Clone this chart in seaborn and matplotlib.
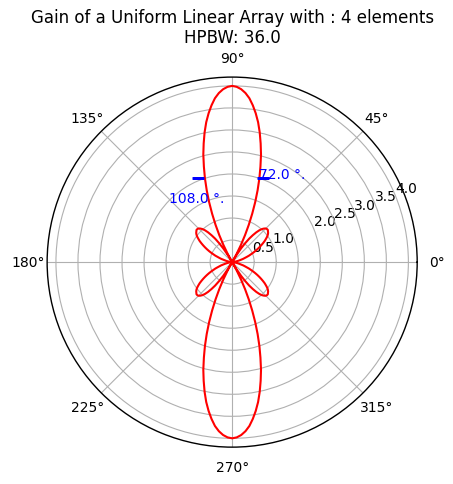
import numpy as np
import pandas as pd
import matplotlib
matplotlib.use("Agg")
import matplotlib.pyplot as plt
import matplotlib.transforms as mtransforms
import seaborn as sns

# ---- data ----
# gain of the first quadrant (0..90 deg, 1.5 deg step); the pattern is symmetric
quad_angles_deg = [0, 1.5, 3, 4.5, 6, 7.5, 9, 10.5, 12, 13.5, 15, 16.5, 18, 19.5,
                   21, 22.5, 24, 25.5, 27, 28.5, 30, 31.5, 33, 34.5, 36, 37.5, 39,
                   40.5, 42, 43.5, 45, 46.5, 48, 49.5, 51, 52.5, 54, 55.5, 57, 58.5,
                   60, 61.5, 63, 64.5, 66, 67.5, 69, 70.5, 72, 73.5, 75, 76.5, 78,
                   79.5, 81, 82.5, 84, 85.5, 87, 88.5, 90]
quad_gain = [0.00, 0.00, 0.01, 0.02, 0.03, 0.05, 0.08, 0.11, 0.14, 0.17, 0.21,
             0.26, 0.30, 0.35, 0.41, 0.46, 0.52, 0.58, 0.64, 0.70, 0.76, 0.82,
             0.88, 0.93, 0.98, 1.02, 1.05, 1.07, 1.09, 1.09, 1.08, 1.05, 1.01,
             0.95, 0.87, 0.77, 0.66, 0.52, 0.37, 0.19, 0.00, 0.21, 0.44, 0.68,
             0.93, 1.19, 1.46, 1.73, 2.00, 2.26, 2.53, 2.77, 3.01, 3.23, 3.42,
             3.59, 3.74, 3.85, 3.93, 3.98, 4.00]
hp_angles_deg = [72.0, 108.0]
hp_gain = [2.0, 2.0]
hp_labels = ["72.0 °.", "108.0 °."]
r_ticks = [0.5, 1.0, 1.5, 2.0, 2.5, 3.0, 3.5, 4.0]
r_tick_labels = ["0.5", "1.0", "", "2.0", "2.5", "3.0", "3.5", "4.0"]
n_elements = 4
hpbw = 36.0

sns.set_style("white")
plt.rcParams['font.family'] = ['DejaVu Sans']
plt.rcParams['text.color'] = 'black'
plt.rcParams['axes.labelcolor'] = 'black'

fig = plt.figure(figsize=(4.53, 4.85), dpi=100)
ax = fig.add_axes([0.104, 0.076, 0.817, 0.763], projection='polar')

qa = np.array(quad_angles_deg, dtype=float)
qg = np.array(quad_gain, dtype=float)
# full pattern from the four mirrored quadrants
theta_deg = np.concatenate([qa, 180 - qa[::-1], 180 + qa, 360 - qa[::-1]])
gain = np.concatenate([qg, qg[::-1], qg, qg[::-1]])
df = pd.DataFrame({"theta": np.deg2rad(theta_deg), "gain": gain})
sns.lineplot(data=df, x="theta", y="gain", ax=ax, sort=False, estimator=None,
             color="red", linewidth=1.5)
ax.set_xlabel("")
ax.set_ylabel("")

# half-amplitude markers
offsets_px = [3.5, -6.5]
for a, g, dx in zip(hp_angles_deg, hp_gain, offsets_px):
    tr = ax.transData + mtransforms.ScaledTranslation(dx / 100.0, 0, fig.dpi_scale_trans)
    ax.plot([np.deg2rad(a)], [g], marker='_', color='blue', markersize=8.6,
            markeredgewidth=2.0, linestyle='none', transform=tr)

text_offsets = [(0, 0), (-26, -17.3)]
for a, g, lab, off in zip(hp_angles_deg, hp_gain, hp_labels, text_offsets):
    ax.annotate(lab, xy=(np.deg2rad(a), g), xytext=off, textcoords='offset points',
                color='blue', fontsize=10, ha='left', va='baseline')

ax.set_rmax(4.2)
ax.set_rticks(r_ticks)
ax.set_yticklabels(r_tick_labels)
ax.set_rlabel_position(22.5)
ax.grid(True, color='#b0b0b0', linewidth=0.8)
ax.spines['polar'].set_color('black')
ax.spines['polar'].set_linewidth(1.0)
ax.tick_params(labelsize=10, colors='black')

ax.set_title(f"Gain of a Uniform Linear Array with : {n_elements} elements\nHPBW: {hpbw}",
             fontsize=12, color='black')

fig.savefig("out.png", dpi=100)
